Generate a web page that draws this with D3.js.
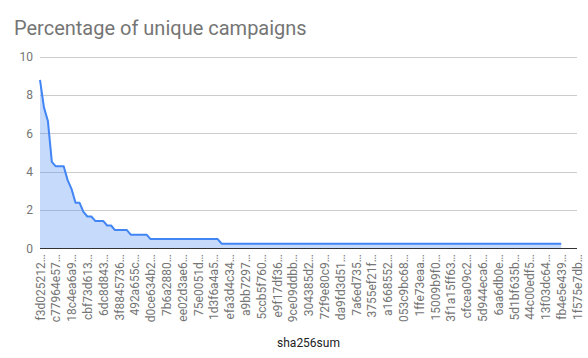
<!DOCTYPE html>
<html>
<head>
<meta charset="utf-8">
<script src="https://cdn.jsdelivr.net/npm/d3@7"></script>
<style>
  html, body { margin: 0; padding: 0; background: #fff; }
  svg { display: block; font-family: Roboto, "Noto Sans", Arial, sans-serif; }
</style>
</head>
<body>
<svg id="chart" width="588" height="358"></svg>
<script>
// ---- data ----
const title = "Percentage of unique campaigns";
const xAxisTitle = "sha256sum";
// labels of every 4th category (shown on the axis)
const tickLabels = [
  "f3d025212…", "c77964e57…", "18c4ea6a9…", "cbf73d613…", "6dc8d843…",
  "3f8845736…", "492a655c…", "d0ce634b2…", "7b6a2880…", "ee02d3ae6…",
  "75e0051d…", "1d3f6a4a5…", "efa3d4c34…", "a9bb7297…", "5ccb5f760…",
  "e9f17df36…", "9ce09ddbb…", "304385d2…", "72f9e80c9…", "da9fd3d51…",
  "7a6ed735…", "3755ef21f…", "a1668552…", "053c9bc68…", "1ffe73eaa…",
  "15009b9f0…", "3f1a15ff63…", "cfcea09c2…", "5d944eca6…", "6aa6db0e…",
  "5d1bf635b…", "44c00edf5…", "13f03dc64…", "fb4e5e439…", "1f575e7db…"
];
const labelStep = 4;         // one label per 4 categories
const categoryCount = 137;   // categories on the axis
const yTicks = [0, 2, 4, 6, 8, 10];
// percentage per category (categories without a value are not listed)
const values = [
  8.79, 7.36, 6.65, 4.51, 4.28, 4.28, 4.28, 3.56, 3.09, 2.38,
  2.38, 1.90, 1.66, 1.66, 1.43, 1.43, 1.43, 1.19, 1.19, 0.95,
  0.95, 0.95, 0.95, 0.71, 0.71, 0.71, 0.71, 0.71, 0.48, 0.48,
  0.48, 0.48, 0.48, 0.48, 0.48, 0.48, 0.48, 0.48, 0.48, 0.48,
  0.48, 0.48, 0.48, 0.48, 0.48, 0.48, 0.24, 0.24, 0.24, 0.24,
  0.24, 0.24, 0.24, 0.24, 0.24, 0.24, 0.24, 0.24, 0.24, 0.24,
  0.24, 0.24, 0.24, 0.24, 0.24, 0.24, 0.24, 0.24, 0.24, 0.24,
  0.24, 0.24, 0.24, 0.24, 0.24, 0.24, 0.24, 0.24, 0.24, 0.24,
  0.24, 0.24, 0.24, 0.24, 0.24, 0.24, 0.24, 0.24, 0.24, 0.24,
  0.24, 0.24, 0.24, 0.24, 0.24, 0.24, 0.24, 0.24, 0.24, 0.24,
  0.24, 0.24, 0.24, 0.24, 0.24, 0.24, 0.24, 0.24, 0.24, 0.24,
  0.24, 0.24, 0.24, 0.24, 0.24, 0.24, 0.24, 0.24, 0.24, 0.24,
  0.24, 0.24, 0.24, 0.24, 0.24, 0.24, 0.24, 0.24, 0.24, 0.24,
  0.24, 0.24, 0.24
];

// ---- layout ----
const svg = d3.select("#chart");
const plot = { left: 40, right: 577, top: 56.8, bottom: 248.3 };

const x = d3.scaleLinear().domain([0, categoryCount - 1]).range([plot.left, plot.right]);
const y = d3.scaleLinear().domain([0, 10]).range([plot.bottom, plot.top]);

// title
svg.append("text")
  .attr("x", 14).attr("y", 35)
  .attr("font-size", 20)
  .attr("fill", "#757575")
  .text(title);

// gridlines
svg.append("g")
  .selectAll("line")
  .data(yTicks.filter(d => d !== 0))
  .join("line")
  .attr("x1", plot.left).attr("x2", plot.right)
  .attr("y1", d => Math.round(y(d)) + 0.5).attr("y2", d => Math.round(y(d)) + 0.5)
  .attr("stroke", "#cccccc").attr("stroke-width", 1);

// y axis labels
const yAxis = d3.axisLeft(y).tickValues(yTicks).tickSize(0).tickPadding(7).tickFormat(d3.format("d"));
const gy = svg.append("g").attr("transform", `translate(${plot.left},0)`).call(yAxis);
gy.select(".domain").remove();
gy.selectAll("text")
  .attr("font-family", "Roboto, 'Noto Sans', Arial, sans-serif")
  .attr("font-size", 12)
  .attr("fill", "#757575");

// area + line
const pts = values.map((v, i) => [i, v]);
const area = d3.area()
  .x(d => x(d[0]))
  .y0(y(0))
  .y1(d => y(d[1]));
const line = d3.line()
  .x(d => x(d[0]))
  .y(d => y(d[1]));

svg.append("path")
  .datum(pts)
  .attr("d", area)
  .attr("fill", "#4285f4")
  .attr("fill-opacity", 0.3);

svg.append("path")
  .datum(pts)
  .attr("d", line)
  .attr("fill", "none")
  .attr("stroke", "#4285f4")
  .attr("stroke-width", 2)
  .attr("stroke-linejoin", "round");

// baseline
svg.append("line")
  .attr("x1", plot.left).attr("x2", plot.right)
  .attr("y1", Math.round(y(0)) + 0.5).attr("y2", Math.round(y(0)) + 0.5)
  .attr("stroke", "#333333").attr("stroke-width", 1);

// x axis labels
const xAxis = d3.axisBottom(x)
  .tickValues(tickLabels.map((_, i) => i * labelStep))
  .tickSize(0)
  .tickFormat((d) => tickLabels[d / labelStep]);
const gx = svg.append("g").attr("transform", `translate(0,${plot.bottom})`).call(xAxis);
gx.select(".domain").remove();
gx.selectAll("text")
  .attr("font-family", "Roboto, 'Noto Sans', Arial, sans-serif")
  .attr("font-size", 12)
  .attr("fill", "#757575")
  .attr("text-anchor", "end")
  .attr("transform", "rotate(-90)")
  .attr("x", -6)
  .attr("y", 0)
  .attr("dy", "0.35em");

// x axis title
svg.append("text")
  .attr("x", (plot.left + plot.right) / 2)
  .attr("y", 347)
  .attr("text-anchor", "middle")
  .attr("font-size", 12)
  .attr("fill", "#222222")
  .text(xAxisTitle);
</script>
</body>
</html>
